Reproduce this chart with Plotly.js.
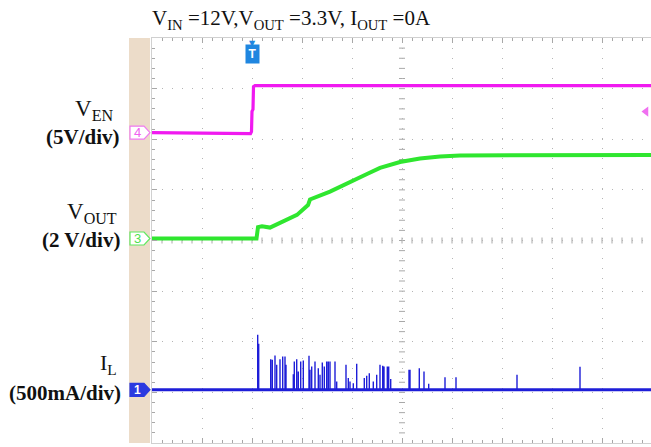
<!DOCTYPE html>
<html><head><meta charset="utf-8">
<script src="https://cdn.plot.ly/plotly-3.0.1.min.js"></script>
<style>html,body{margin:0;padding:0;background:#fff;overflow:hidden}</style>
</head><body><div id="chart" style="width:651px;height:447px"></div>
<script>
// Time in divisions relative to the trigger (T)
// V_EN channel (volts, 5 V/div)
const venT = [-2, -0.5, -0.03, -0.01, 0.0, 0.02, 0.03, 0.06, 7.98];
const venV = [0, -0.05, -0.1, 0.1, 2.1, 2.3, 4.55, 4.65, 4.65];
// V_OUT channel (volts, 2 V/div)
const voutT = [-2, 0.09, 0.12, 0.2, 0.36, 0.5, 0.9, 1.12, 1.16, 1.56, 2.02, 2.3, 2.56, 2.96, 3.36, 3.76, 4.16, 7.98];
const voutV = [0, 0, 0.45, 0.48, 0.43, 0.57, 0.93, 1.32, 1.54, 1.85, 2.31, 2.55, 2.79, 3.02, 3.16, 3.24, 3.28, 3.30];
// I_L channel (mA, 500 mA/div): baseline and switching spikes
const ilBaseT = [-2, 7.98];
const ilBaseMA = [0, 0];
const spikeT = [0.114,0.134,0.374,0.406,0.46,0.494,0.56,0.614,0.66,0.68,0.826,0.846,0.894,0.926,0.974,1.026,1.14,1.16,1.194,1.26,1.326,1.36,1.406,1.446,1.494,1.526,1.56,1.66,1.694,1.88,1.926,1.96,2.026,2.094,2.246,2.294,2.346,2.426,2.494,2.56,2.614,2.64,2.706,2.734,2.774,3.14,3.16,3.346,3.44,3.534,3.86,4.08,5.3,6.56];
const spikeMA = [543,455,303,296,339,247,303,329,329,247,155,280,303,181,280,290,336,198,230,280,214,148,270,230,280,280,280,280,82,247,116,82,66,257,116,138,165,82,148,247,237,230,230,230,106,198,198,214,181,59,125,125,148,227];
// Trigger level marker on V_EN channel
const trigLevelT = [7.88];
const trigLevelV = [2.08];

// channel scale (units/div) and ground offset (div from bottom of screen)
const CH = {
  en:   {scale: 5,   offset: 6.13},
  out:  {scale: 2,   offset: 4.04},
  il:   {scale: 500, offset: 1.05}
};
const toDiv = (arr, ch) => arr.map(v => ch.offset + v / ch.scale);

const title = 'V<sub>IN</sub> =12V,V<sub>OUT</sub> =3.3V, I<sub>OUT</sub> =0A';

const MAG = '#f019f0', GRN = '#2fe62f', BLU = '#1e1ed8';

// spike polyline from the spike arrays
const sx = [ilBaseT[0]], sy = [0];
spikeT.forEach((t, i) => { sx.push(t, t, t); sy.push(0, spikeMA[i], 0); });
sx.push(ilBaseT[1]); sy.push(0);

const traces = [
  {x: venT, y: toDiv(venV, CH.en), mode: 'lines', line: {color: MAG, width: 3.2}, hoverinfo: 'skip'},
  {x: voutT, y: toDiv(voutV, CH.out), mode: 'lines', line: {color: GRN, width: 4}, hoverinfo: 'skip'},
  {x: sx, y: toDiv(sy, CH.il), mode: 'lines', line: {color: BLU, width: 1.4}, hoverinfo: 'skip'},
  {x: ilBaseT, y: toDiv(ilBaseMA, CH.il), mode: 'lines', line: {color: BLU, width: 3}, hoverinfo: 'skip'},
  {x: trigLevelT, y: toDiv(trigLevelV, CH.en), mode: 'markers', cliponaxis: false,
   marker: {symbol: 'triangle-left', size: 9, color: '#f070f0'}, hoverinfo: 'skip'}
];

const gridC = '#b4b4b4';
const tickC = '#a8a8a8';

function px2paperX(px) { return (px - 152) / 499; }
function px2paperY(py) { return (443 - py) / 405; }

const shapes = [
  {type: 'rect', xref: 'paper', yref: 'paper', x0: px2paperX(129), x1: px2paperX(150), y0: 0, y1: 1,
   fillcolor: '#ecdcc9', line: {width: 0}, layer: 'below'}
];
// centre cross-hair minor ticks (graticule decoration)
for (let k = 1; k < 50; k++) {
  const t = -2 + k * 0.2;
  shapes.push({type: 'line', xref: 'x', x0: t, x1: t, yref: 'y', ysizemode: 'pixel', yanchor: 4, y0: -3, y1: 3,
               line: {color: tickC, width: 1}, layer: 'below'});
}
for (let k = 1; k < 40; k++) {
  const d = k * 0.2;
  shapes.push({type: 'line', yref: 'y', y0: d, y1: d, xref: 'x', xsizemode: 'pixel', xanchor: 3, x0: -3, x1: 3,
               line: {color: tickC, width: 1}, layer: 'below'});
}
function pent(ch, fill, line) {
  return {type: 'path', xref: 'paper', xsizemode: 'pixel', xanchor: 0,
          yref: 'y', ysizemode: 'pixel', yanchor: ch.offset,
          path: 'M-22,-6.5 L-8,-6.5 L-2,0 L-8,6.5 L-22,6.5 Z',
          fillcolor: fill, line: {color: line, width: 1.2}, layer: 'above'};
}
shapes.push(pent(CH.en, '#ffffff', '#f07af0'), pent(CH.out, '#ffffff', '#5fe85f'), pent(CH.il, '#2b3ae0', '#2b3ae0'));

const serif = 'Liberation Serif, Times New Roman, serif';
function lab(text, px, py, bold, size) {
  return {xref: 'paper', yref: 'paper', x: px2paperX(px), y: px2paperY(py),
          xanchor: 'right', yanchor: 'middle', showarrow: false,
          text: bold ? '<b>' + text + '</b>' : text, font: {family: serif, size: size, color: '#111'}};
}
function chNum(ch, text, color, size) {
  return {xref: 'paper', yref: 'y', x: px2paperX(137), y: ch.offset, xanchor: 'center', yanchor: 'middle',
          showarrow: false, text: text, font: {family: 'Liberation Sans, Arial', size: size, color: color}};
}

const layout = {
  width: 651, height: 447,
  margin: {l: 152, r: 0, t: 38, b: 4},
  paper_bgcolor: '#fff', plot_bgcolor: '#fff', showlegend: false,
  font: {family: serif, color: '#111'},
  title: {text: title, font: {size: 21, family: serif, color: '#111'},
          xref: 'paper', x: 0, xanchor: 'left', yref: 'container', y: 1 - 18 / 447, yanchor: 'middle'},
  xaxis: {range: [-2, 7.98], tick0: -2, dtick: 1, showticklabels: false, zeroline: false, fixedrange: true,
          showgrid: true, gridcolor: gridC, griddash: '1px,9px', gridwidth: 1,
          ticks: 'inside', ticklen: 5, tickcolor: tickC, showline: true, linecolor: '#d0d0d0', mirror: 'ticks',
          minor: {tick0: -2, dtick: 0.2, ticks: 'inside', ticklen: 3, tickcolor: tickC, showgrid: false}},
  yaxis: {range: [0, 8], tick0: 0, dtick: 1, showticklabels: false, zeroline: false, fixedrange: true,
          showgrid: true, gridcolor: gridC, griddash: '1px,9px', gridwidth: 1,
          ticks: 'inside', ticklen: 5, tickcolor: tickC, showline: true, linecolor: '#d0d0d0', mirror: false,
          minor: {tick0: 0, dtick: 0.2, ticks: 'inside', ticklen: 3, tickcolor: tickC, showgrid: false}},
  shapes: shapes,
  annotations: [
    lab('V<sub>EN</sub>', 115, 110, false, 23),
    lab('(5V/div)', 122, 137, true, 21),
    lab('V<sub>OUT</sub>', 119, 213, false, 23),
    lab('(2 V/div)', 122, 240, true, 21),
    lab('I<sub>L</sub>', 119, 364, false, 22),
    lab('(500mA/div)', 123, 393, true, 21),
    chNum(CH.en, '4', '#f060f0', 13),
    chNum(CH.out, '3', '#4fe04f', 13),
    chNum(CH.il, '<b>1</b>', '#ffffff', 12),
    {xref: 'x', yref: 'paper', x: 0, y: 1, yanchor: 'top', yshift: 1, showarrow: false, text: '▼',
     font: {family: 'DejaVu Sans', size: 8, color: '#1f86e0'}},
    {xref: 'x', yref: 'paper', x: 0, y: 1, yanchor: 'top', yshift: -6, showarrow: false, text: '<b>T</b>',
     bgcolor: '#1f86e0', borderpad: 2, width: 9,
     font: {family: 'Liberation Sans, Arial', size: 12, color: '#ffffff'}}
  ]
};

Plotly.newPlot('chart', traces, layout, {staticPlot: true, displayModeBar: false});
</script>
</body></html>
